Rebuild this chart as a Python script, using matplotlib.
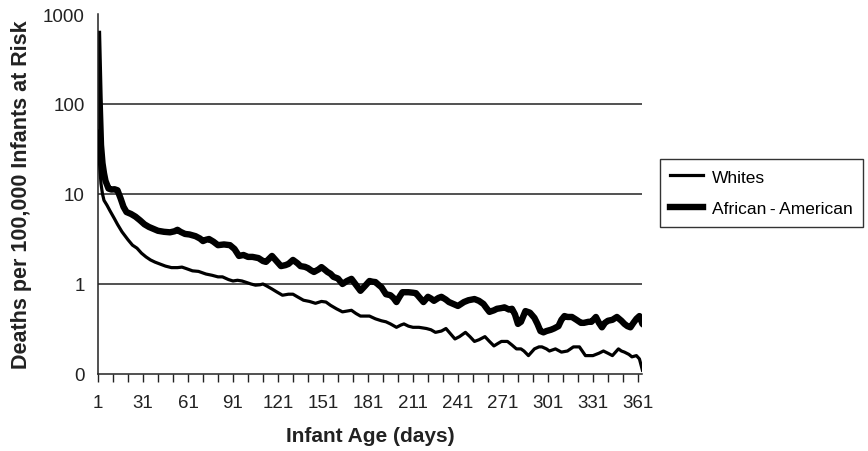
import matplotlib
matplotlib.use("Agg")
import matplotlib.pyplot as plt
from matplotlib.ticker import FixedLocator, FixedFormatter, NullLocator

plt.rcParams['font.family'] = ['Liberation Sans', 'DejaVu Sans']

# deaths per 100,000 infants at risk, by day of life
white_days = [1, 2, 3, 4, 5, 7, 9, 12, 14, 17, 21, 24, 27, 30, 33, 36, 39, 43, 46, 50,
              54, 57, 60, 64, 68, 73, 77, 81, 84, 88, 91, 94, 97, 100, 103, 106, 109, 111,
              114, 117, 120, 124, 128, 131, 134, 138, 142, 146, 150, 153, 156, 160, 164,
              167, 170, 173, 176, 179, 182, 186, 190, 193, 196, 200, 203, 205, 208, 211,
              215, 220, 223, 226, 230, 233, 236, 239, 242, 246, 249, 252, 255, 259, 262,
              265, 268, 270, 274, 277, 280, 283, 285, 288, 292, 295, 297, 300, 302, 306,
              310, 314, 318, 322, 326, 329, 331, 335, 338, 341, 344, 348, 350, 352, 355,
              357, 360, 362, 364]
white_rate = [50, 22, 13, 10, 8.5, 7.5, 6.5, 5.3, 4.6, 3.8, 3.1, 2.7, 2.5, 2.2, 2.0, 1.85,
              1.75, 1.65, 1.58, 1.52, 1.52, 1.54, 1.48, 1.4, 1.38, 1.29, 1.25, 1.2, 1.2,
              1.12, 1.08, 1.1, 1.08, 1.04, 1.0, 0.97, 0.98, 1.0, 0.94, 0.88, 0.82, 0.75,
              0.77, 0.77, 0.72, 0.66, 0.64, 0.61, 0.64, 0.63, 0.58, 0.53, 0.49, 0.5, 0.51,
              0.47, 0.44, 0.44, 0.44, 0.41, 0.39, 0.38, 0.36, 0.33, 0.35, 0.36, 0.34, 0.33,
              0.33, 0.32, 0.31, 0.29, 0.3, 0.32, 0.28, 0.245, 0.26, 0.29, 0.26, 0.23, 0.24,
              0.26, 0.23, 0.205, 0.22, 0.23, 0.23, 0.21, 0.19, 0.19, 0.18, 0.16, 0.19, 0.2,
              0.2, 0.19, 0.18, 0.19, 0.175, 0.18, 0.2, 0.2, 0.16, 0.16, 0.16, 0.17, 0.18,
              0.17, 0.16, 0.19, 0.18, 0.175, 0.165, 0.155, 0.16, 0.147, 0.11]

black_days = [1, 2, 3, 4, 5, 6, 8, 10, 12, 14, 16, 18, 20, 23, 26, 29, 32, 35, 38, 41, 45,
              49, 52, 54, 56, 59, 62, 66, 69, 71, 73, 75, 78, 81, 85, 89, 92, 95, 98, 101,
              104, 108, 111, 113, 115, 117, 120, 123, 126, 128, 131, 134, 136, 139, 141,
              143, 145, 148, 150, 152, 154, 156, 158, 161, 164, 167, 170, 173, 176, 179,
              182, 184, 186, 188, 190, 193, 196, 198, 200, 202, 204, 208, 211, 213, 215,
              218, 221, 223, 225, 228, 230, 233, 235, 238, 241, 243, 245, 248, 252, 255,
              258, 260, 262, 265, 267, 270, 272, 275, 277, 279, 281, 283, 286, 289, 292,
              294, 296, 298, 300, 303, 305, 308, 310, 312, 314, 317, 320, 323, 325, 328,
              330, 333, 335, 337, 339, 341, 344, 347, 350, 352, 354, 356, 358, 360, 362,
              364, 365]
black_rate = [600, 120, 35, 22, 17, 14, 11.5, 11.2, 11.3, 11.0, 9.0, 7.2, 6.3, 6.0, 5.6,
              5.1, 4.6, 4.3, 4.1, 3.9, 3.8, 3.75, 3.85, 4.0, 3.8, 3.6, 3.55, 3.4, 3.2, 3.0,
              3.1, 3.16, 2.95, 2.7, 2.75, 2.7, 2.45, 2.05, 2.1, 2.0, 2.0, 1.94, 1.8, 1.76,
              1.9, 2.05, 1.8, 1.58, 1.62, 1.67, 1.85, 1.7, 1.58, 1.55, 1.5, 1.42, 1.36,
              1.45, 1.54, 1.45, 1.36, 1.3, 1.2, 1.15, 1.0, 1.08, 1.14, 0.98, 0.84, 0.95,
              1.08, 1.06, 1.05, 0.98, 0.92, 0.77, 0.75, 0.7, 0.63, 0.72, 0.81, 0.81, 0.8,
              0.79, 0.72, 0.63, 0.72, 0.69, 0.65, 0.7, 0.72, 0.67, 0.63, 0.6, 0.57, 0.6,
              0.63, 0.66, 0.68, 0.65, 0.6, 0.54, 0.49, 0.51, 0.53, 0.54, 0.55, 0.52, 0.53,
              0.46, 0.36, 0.38, 0.5, 0.48, 0.42, 0.36, 0.3, 0.29, 0.3, 0.31, 0.32, 0.34,
              0.4, 0.44, 0.43, 0.43, 0.4, 0.37, 0.37, 0.38, 0.38, 0.43, 0.37, 0.33, 0.37,
              0.39, 0.4, 0.43, 0.39, 0.36, 0.34, 0.33, 0.37, 0.41, 0.44, 0.36, 0.35]

y_ticks = [0.1, 1, 10, 100, 1000]
y_labels = ['0', '1', '10', '100', '1000']
x_labels = list(range(1, 362, 30))

fig = plt.figure(figsize=(8.68, 4.52), dpi=100)
ax = fig.add_axes([0.1129, 0.1704, 0.6267, 0.7964])

ax.set_yscale('log')
for v in [1, 10, 100]:
    ax.axhline(v, color='#222222', lw=1.1, zorder=1)

ax.plot(white_days, white_rate, color='black', lw=2.3, label='Whites',
        solid_joinstyle='round', zorder=3)
ax.plot(black_days, black_rate, color='black', lw=4.6,
        label='African\u2009-\u2009American', solid_joinstyle='round', zorder=2)

ax.set_xlim(1, 363.7)
ax.set_ylim(0.1, 1000)

ax.yaxis.set_major_locator(FixedLocator(y_ticks))
ax.yaxis.set_major_formatter(FixedFormatter(y_labels))
ax.yaxis.set_minor_locator(NullLocator())
ax.tick_params(axis='y', length=0, pad=9.5, labelsize=13.5, colors='#222222')

ax.xaxis.set_major_locator(FixedLocator(x_labels))
ax.xaxis.set_minor_locator(FixedLocator(list(range(1, 362, 10))))
ax.tick_params(axis='x', which='both', direction='out', length=6, width=1,
               pad=8.5, labelsize=13.5, colors='#222222')

for side in ['top', 'right']:
    ax.spines[side].set_visible(False)
for side in ['left', 'bottom']:
    ax.spines[side].set_linewidth(1.1)
    ax.spines[side].set_color('#222222')

ax.set_xlabel('Infant Age (days)', fontsize=15, fontweight='bold',
              labelpad=11, color='#222222')
ax.set_ylabel('Deaths per 100,000 Infants at Risk', fontsize=15.5,
              fontweight='bold', labelpad=8, color='#222222')

leg = ax.legend(loc='upper left', bbox_to_anchor=(660 / 868, 1 - 160 / 452),
                bbox_transform=fig.transFigure, frameon=True, fancybox=False,
                fontsize=12.5, handlelength=1.9, handletextpad=0.5,
                borderpad=0.6, labelspacing=0.95, borderaxespad=0)
leg.get_frame().set_edgecolor('black')
leg.get_frame().set_linewidth(1.0)

fig.savefig('out.png', dpi=100)
